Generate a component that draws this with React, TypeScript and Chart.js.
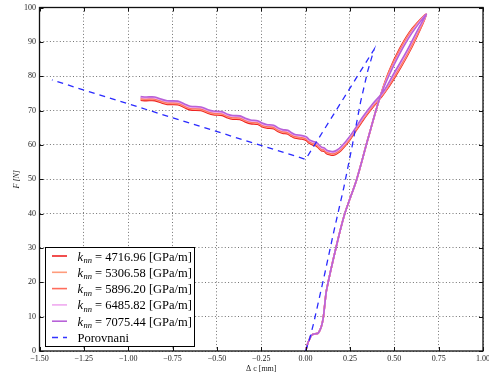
import { useEffect, useRef } from 'react';
import { Chart, registerables } from 'chart.js';

Chart.register(...registerables);

const seriesLabels = ['4716.96', '5306.58', '5896.20', '6485.82', '7075.44'];
const seriesColors = ['#ee2222', '#ff9c7c', '#ff6c5c', '#f0aaf0', '#b862d8'];
const seriesOrder = [5, 4, 3, 2, 1];

// shared loading branch (0,0) -> crossing
const loadX = [0, 0.015, 0.034, 0.055, 0.071, 0.088, 0.099, 0.108, 0.118, 0.171, 0.221, 0.287, 0.35, 0.42];
const loadY = [0, 2.6, 4.6, 5.0, 5.2, 7.0, 9.5, 13.5, 17.7, 30, 40, 49.8, 61.5, 74.0];

// upper side of lens near the peak (per series)
const lensUpX = [0.47, 0.53, 0.6];
const lensUpY = [
  [81.4, 88.0, 93.8],
  [81.1, 87.6, 93.5],
  [80.8, 87.2, 93.2],
  [80.5, 86.8, 92.9],
  [80.2, 86.5, 92.6],
];
const peakX = [0.68];
const peakY = [98];
// lower side of lens (per series)
const lensDnX = [0.63, 0.57, 0.5, 0.44];
const lensDnY = [
  [91.8, 85.6, 79.4, 74.8],
  [92.2, 86.0, 79.8, 75.0],
  [92.6, 86.5, 80.2, 75.2],
  [93.0, 86.9, 80.6, 75.4],
  [93.3, 87.3, 81.0, 75.6],
];
// return branch with the stepped part
const returnX = [0.38, 0.324, 0.25, 0.2, 0.175, 0.155, 0.14, 0.12, 0.105, 0.09, 0.075, 0.06, 0.04, 0.02, 0.005, -0.02, -0.06, -0.08, -0.10, -0.13, -0.155, -0.18, -0.22, -0.245, -0.27, -0.31, -0.34, -0.37, -0.41, -0.44, -0.47, -0.52, -0.55, -0.59, -0.65, -0.68, -0.72, -0.78, -0.81, -0.85, -0.90, -0.93];
const returnY = [71.0, 67.2, 61.5, 58.4, 57.4, 57.0, 57.1, 57.4, 58.1, 58.3, 59.0, 59.7, 60.0, 60.5, 61.3, 61.7, 62.0, 62.5, 63.2, 63.4, 63.9, 64.7, 64.9, 65.3, 66.0, 66.2, 66.7, 67.4, 67.5, 67.9, 68.6, 68.8, 69.2, 70.0, 70.2, 70.8, 71.7, 71.8, 72.2, 72.9, 72.9, 73.0];
// vertical separation of each series in the return band
const returnLift = [0, 0.3, 0.55, 0.8, 1.05];

// Porovnani (comparison)
const porX = [0, 0.02, 0.045, 0.11, 0.16, 0.215, 0.26, 0.31, 0.35, 0.386, 0.0, -1.43];
const porY = [0, 3, 8, 23, 35, 47.5, 59, 72.5, 81.5, 87.8, 55.8, 78.9];

const xTicks = [-1.5, -1.25, -1.0, -0.75, -0.5, -0.25, 0, 0.25, 0.5, 0.75, 1.0];
const yTicks = [0, 10, 20, 30, 40, 50, 60, 70, 80, 90, 100];

const SERIF = '"Liberation Serif", "Times New Roman", serif';

function buildSeries(i: number) {
  const pts: { x: number; y: number }[] = [];
  loadX.forEach((x, j) => pts.push({ x, y: loadY[j] }));
  lensUpX.forEach((x, j) => pts.push({ x, y: lensUpY[i][j] }));
  peakX.forEach((x, j) => pts.push({ x, y: peakY[j] }));
  lensDnX.forEach((x, j) => pts.push({ x, y: lensDnY[i][j] }));
  returnX.forEach((x, j) => pts.push({ x, y: returnY[j] + returnLift[i] }));
  return pts;
}

const decorPlugin = {
  id: 'decor',
  afterDatasetsDraw(chart: any) {
    const { ctx, chartArea: a, scales } = chart;
    const x = scales.x;
    const y = scales.y;
    ctx.save();
    ctx.strokeStyle = '#111';
    ctx.lineWidth = 1;
    ctx.beginPath();
    for (const v of xTicks) {
      const px = Math.round(x.getPixelForValue(v)) + 0.5;
      ctx.moveTo(px, a.bottom);
      ctx.lineTo(px, a.bottom - 4);
      ctx.moveTo(px, a.top);
      ctx.lineTo(px, a.top + 4);
    }
    for (const v of yTicks) {
      const py = Math.round(y.getPixelForValue(v)) + 0.5;
      ctx.moveTo(a.left, py);
      ctx.lineTo(a.left + 4, py);
      ctx.moveTo(a.right, py);
      ctx.lineTo(a.right - 4, py);
    }
    ctx.stroke();
    ctx.lineWidth = 1.3;
    ctx.strokeRect(a.left, a.top, a.right - a.left, a.bottom - a.top);
    ctx.restore();
  },
  afterDraw(chart: any) {
    const { ctx } = chart;
    const lx = 45.5;
    const ly = 247.5;
    const lw = 149;
    const lh = 99;
    ctx.save();
    ctx.fillStyle = '#fff';
    ctx.fillRect(lx, ly, lw, lh);
    ctx.strokeStyle = '#000';
    ctx.lineWidth = 1;
    ctx.strokeRect(lx, ly, lw, lh);
    const rows = [...seriesLabels.map((l, i) => ({ l, c: seriesColors[i], dash: false })), { l: '', c: '#3333ff', dash: true }];
    rows.forEach((r, i) => {
      const ry = ly + 8.5 + i * 16.3;
      ctx.beginPath();
      ctx.strokeStyle = r.c;
      ctx.lineWidth = r.dash ? 1.3 : 1.6;
      ctx.setLineDash(r.dash ? [6, 5] : []);
      ctx.moveTo(52, ry);
      ctx.lineTo(67, ry);
      ctx.stroke();
      ctx.setLineDash([]);
      ctx.fillStyle = '#000';
      ctx.textBaseline = 'alphabetic';
      ctx.textAlign = 'left';
      const base = ry + 4.5;
      if (!r.dash) {
        ctx.font = `italic 12.5px ${SERIF}`;
        ctx.fillText('k', 77.5, base);
        const kw = ctx.measureText('k').width;
        ctx.font = `italic 8.5px ${SERIF}`;
        ctx.fillText('nn', 77.5 + kw + 0.5, base + 2.5);
        ctx.font = `12.5px ${SERIF}`;
        ctx.fillText(`= ${r.l} [GPa/m]`, 95, base);
      } else {
        ctx.font = `12.5px ${SERIF}`;
        ctx.fillText('Porovnani', 77.5, base);
      }
    });
    ctx.restore();
  },
};

export default function App() {
  const ref = useRef<HTMLCanvasElement>(null);
  useEffect(() => {
    if (!ref.current) return;
    const datasets: any[] = [
      {
        label: 'Porovnani',
        data: porX.map((x, j) => ({ x, y: porY[j] })),
        showLine: true,
        borderColor: '#2a2aff',
        borderWidth: 1.3,
        borderDash: [6, 5],
        pointRadius: 0,
        tension: 0,
        order: 0,
      },
      ...seriesLabels.map((l, i) => ({
        label: `k = ${l}`,
        data: buildSeries(i),
        showLine: true,
        borderColor: seriesColors[i],
        borderWidth: 1.6,
        pointRadius: 0,
        tension: 0.3,
        borderJoinStyle: 'round',
        order: seriesOrder[i],
      })),
    ];
    const tickFont = { family: SERIF, size: 8 };
    const chart = new Chart(ref.current, {
      type: 'scatter',
      data: { datasets },
      options: {
        animation: false,
        responsive: false,
        maintainAspectRatio: false,
        layout: { padding: { top: 7.5, right: 6, left: 0, bottom: 0 } },
        plugins: { legend: { display: false }, tooltip: { enabled: false } },
        scales: {
          x: {
            type: 'linear',
            min: -1.5,
            max: 1.0,
            afterBuildTicks: (s: any) => {
              s.ticks = xTicks.map((v) => ({ value: v }));
            },
            afterFit: (s: any) => {
              s.height = 25;
              s.paddingLeft = 0;
              s.paddingRight = 0;
            },
            ticks: {
              autoSkip: false,
              maxRotation: 0,
              padding: 3,
              color: '#222',
              font: tickFont,
              callback: (v: any) => (v < 0 ? '\u2212' : '') + Math.abs(Number(v)).toFixed(2),
            },
            grid: { color: 'rgba(0,0,0,0.55)', lineWidth: 1, drawTicks: false },
            border: { display: false, dash: [1, 2.3] },
            title: { display: true, text: 'Δ c [mm]', color: '#222', font: tickFont, padding: { top: 0, bottom: 2 } },
          },
          y: {
            type: 'linear',
            min: 0,
            max: 100,
            afterBuildTicks: (s: any) => {
              s.ticks = yTicks.map((v) => ({ value: v }));
            },
            afterFit: (s: any) => {
              s.width = 39.5;
              s.paddingTop = 0;
              s.paddingBottom = 0;
            },
            ticks: { autoSkip: false, padding: 3.5, color: '#222', font: tickFont, callback: (v: any) => String(v) },
            grid: { color: 'rgba(0,0,0,0.55)', lineWidth: 1, drawTicks: false },
            border: { display: false, dash: [1, 2.3] },
            title: { display: true, text: 'F [N]', color: '#222', font: { ...tickFont, style: 'italic' }, padding: { top: 12, bottom: 0 } },
          },
        },
      },
      plugins: [decorPlugin],
    } as any);
    return () => chart.destroy();
  }, []);
  return (
    <div style={{ position: 'absolute', left: 0, top: 0, width: 489, height: 376, background: '#fff' }}>
      <canvas ref={ref} width={489} height={376} style={{ display: 'block' }} />
    </div>
  );
}
